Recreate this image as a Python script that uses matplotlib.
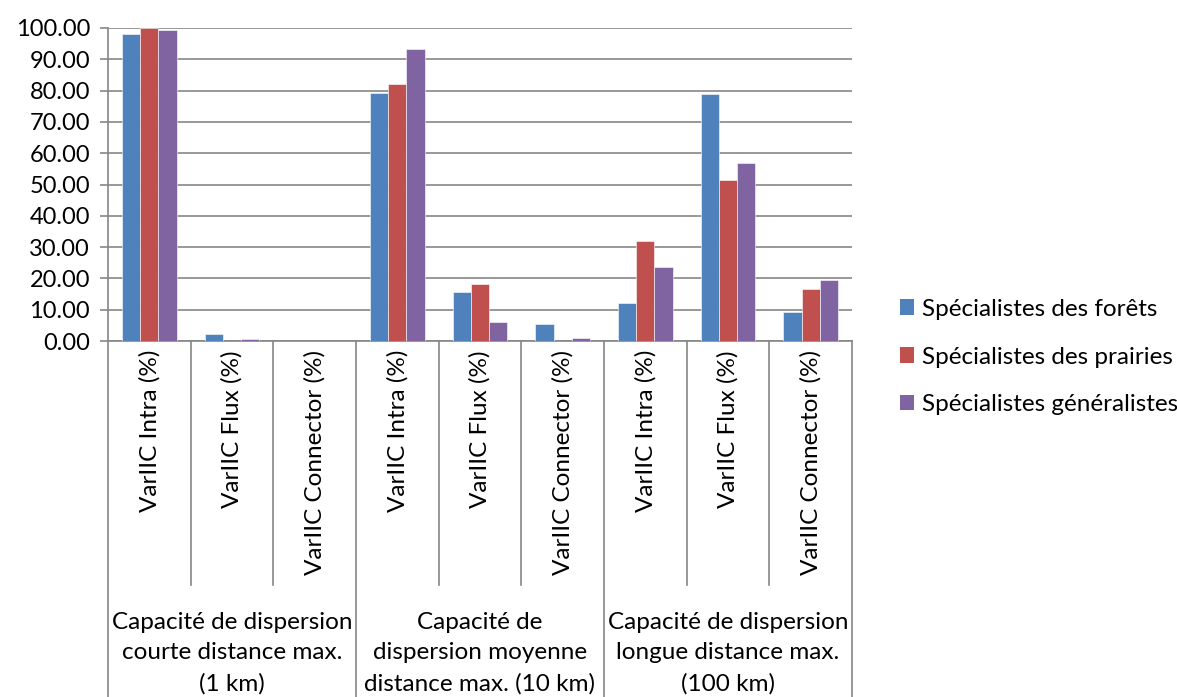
import numpy as np
import matplotlib.pyplot as plt
from matplotlib.patches import Patch

plt.rcParams['font.family'] = ['Lato', 'DejaVu Sans']

categories = ['VarIIC Intra (%)', 'VarIIC Flux (%)', 'VarIIC Connector (%)'] * 3
groups = ['Capacité de dispersion\ncourte distance max.\n(1 km)',
          'Capacité de\ndispersion moyenne\ndistance max. (10 km)',
          'Capacité de dispersion\nlongue distance max.\n(100 km)']
series = ['Spécialistes des forêts', 'Spécialistes des prairies',
          'Spécialistes généralistes']
forets = [98.0, 2.1, 0.0, 79.3, 15.6, 5.4, 12.2, 78.8, 9.3]
prairies = [100.0, 0.1, 0.0, 82.0, 18.1, 0.0, 31.9, 51.5, 16.7]
generalistes = [99.5, 0.6, 0.0, 93.3, 6.1, 1.0, 23.7, 56.9, 19.6]
colors = ['#4F81BD', '#C0504D', '#8064A2']
grid_col = '#868686'


def main():
    fig = plt.figure(figsize=(11.77, 6.97), dpi=100)
    ax = fig.add_axes([108 / 1177, 1 - 341 / 697, 744 / 1177, 313 / 697])

    x = np.arange(len(categories))
    w = 0.22
    for i, vals in enumerate([forets, prairies, generalistes]):
        ax.bar(x + (i - 1) * w, vals, w, color=colors[i],
               edgecolor='white', linewidth=0.4, zorder=3)

    ax.set_xlim(-0.5, len(categories) - 0.5)
    ax.set_ylim(0, 100)
    ax.set_yticks(np.arange(0, 101, 10))
    ax.set_yticklabels(['%.2f' % v for v in np.arange(0, 101, 10)], fontsize=17)
    ax.yaxis.grid(True, color=grid_col, linewidth=1.2, zorder=0)
    ax.tick_params(axis='y', length=6, width=1.2, color=grid_col, pad=7)
    ax.set_xticks([])
    for s in ['top', 'right']:
        ax.spines[s].set_visible(False)
    for s in ['left', 'bottom']:
        ax.spines[s].set_color(grid_col)
        ax.spines[s].set_linewidth(1.2)

    # category axis: rotated labels, separators and group labels
    trans = ax.get_xaxis_transform()
    px = 1 / 313.0
    inner_bottom = -(585 - 341) * px
    outer_bottom = -(697 - 341) * px - 0.05
    for k in range(len(categories) + 1):
        xb = k - 0.5
        ybot = outer_bottom if k % 3 == 0 else inner_bottom
        ax.plot([xb, xb], [0, ybot], color=grid_col, linewidth=1.2,
                transform=trans, clip_on=False)
    for k, lab in enumerate(categories):
        ax.text(k, -(350 - 341) * px, lab, transform=trans, rotation=90,
                ha='center', va='top', fontsize=17.5)
    for g, lab in enumerate(groups):
        ax.text(3 * g + 1, -(653 - 341) * px, lab, transform=trans,
                ha='center', va='center', fontsize=17.5, linespacing=1.55)

    handles = [Patch(facecolor=c, edgecolor='none') for c in colors]
    fig.legend(handles, series, loc='center left',
               bbox_to_anchor=(878 / 1177, 1 - 357 / 697), frameon=False,
               fontsize=17.5, handlelength=0.6, handleheight=0.6,
               handletextpad=0.3, labelspacing=1.1)

    fig.savefig('out.png', dpi=100)


if __name__ == '__main__':
    main()
